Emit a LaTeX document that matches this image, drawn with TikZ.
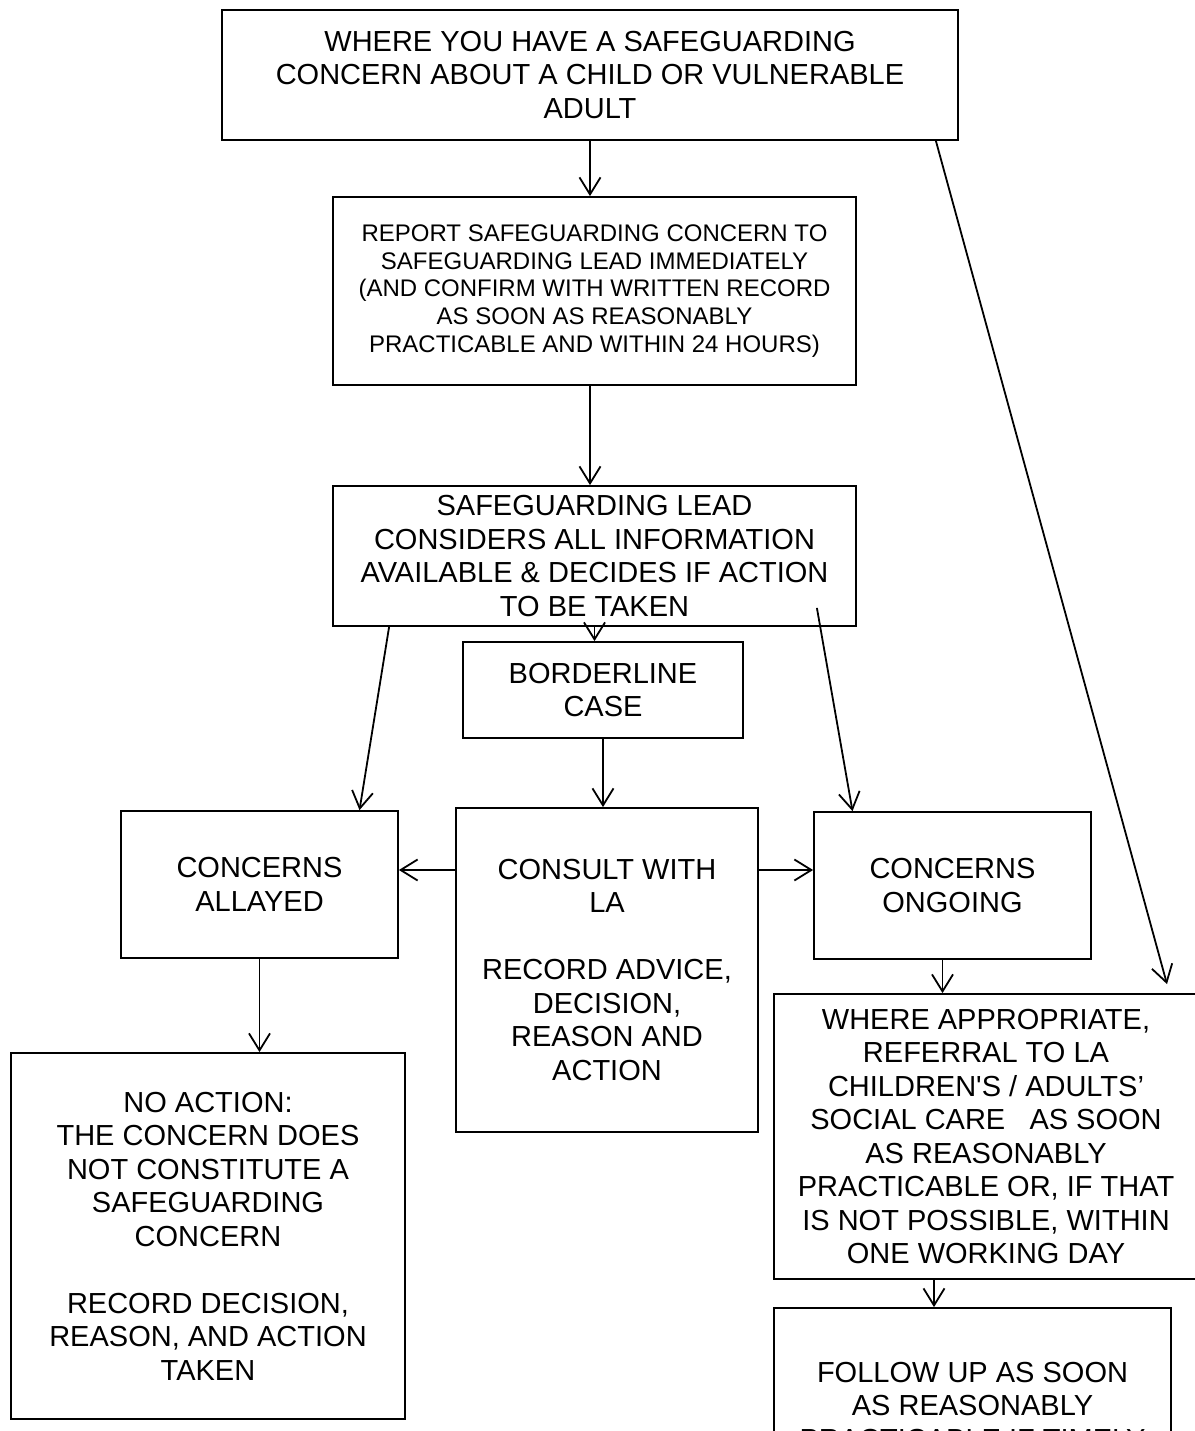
\documentclass[tikz,border=0pt]{standalone}
\usepackage{fontspec}
\setmainfont{Liberation Sans}
\usepackage{tikz}
\usetikzlibrary{arrows.meta}

\begin{document}
\begin{tikzpicture}[x=.5pt, y=-.5pt,
		box/.style={draw, line width=.9pt, rectangle, inner sep=0pt, align=center, font=\fontsize{14.5}{16.75}\selectfont},
		smallbox/.style={box, font=\fontsize{12}{13.9}\selectfont},
		arr/.style={-{Straight Barb[length=8.5pt, width=10.5pt]}, line width=.9pt}]
				\path[use as bounding box, clip] (0,0) rectangle (1195,1431);
				\node[box, minimum width=368pt, minimum height=65pt] (top) at (590,75) {WHERE YOU HAVE A SAFEGUARDING\\CONCERN ABOUT A CHILD OR VULNERABLE\\ADULT};
				\node[smallbox, minimum width=261.5pt, minimum height=94pt] (report) at (594.5,291) {REPORT SAFEGUARDING CONCERN TO\\SAFEGUARDING LEAD IMMEDIATELY\\(AND CONFIRM WITH WRITTEN RECORD\\AS SOON AS REASONABLY\\PRACTICABLE AND WITHIN 24 HOURS)};
				\node[box, minimum width=261.5pt, minimum height=70pt] (lead) at (594.5,556) {SAFEGUARDING LEAD\\CONSIDERS ALL INFORMATION\\AVAILABLE \& DECIDES IF ACTION\\TO BE TAKEN};
				\node[box, minimum width=140pt, minimum height=48pt] (border) at (603,690) {BORDERLINE\\CASE};
				\node[box, minimum width=151pt, minimum height=162pt] (consult) at (607,970) {CONSULT WITH\\LA\\[16.75pt]RECORD ADVICE,\\DECISION,\\REASON AND\\ACTION};
				\node[box, minimum width=138.5pt, minimum height=73.5pt] (allayed) at (259.5,884.5) {CONCERNS\\ALLAYED};
				\node[box, minimum width=138.5pt, minimum height=73.5pt] (ongoing) at (952.5,885.5) {CONCERNS\\ONGOING};
				\node[box, minimum width=212pt, minimum height=142.5pt] (referral) at (986,1136.5) {WHERE APPROPRIATE,\\REFERRAL TO LA\\CHILDREN\textquotesingle S / ADULTS’\\SOCIAL CARE\ \ \ AS SOON\\AS REASONABLY\\PRACTICABLE OR, IF THAT\\IS NOT POSSIBLE, WITHIN\\ONE WORKING DAY};
				\node[box, minimum width=197pt, minimum height=183pt] (noaction) at (208,1236) {NO ACTION:\\THE CONCERN DOES\\NOT CONSTITUTE A\\SAFEGUARDING\\CONCERN\\[16.75pt]RECORD DECISION,\\REASON, AND ACTION\\TAKEN};
				\node[box, minimum width=198.5pt, minimum height=97.5pt] (followup) at (972.5,1405.5) {FOLLOW UP AS SOON\\AS REASONABLY\\PRACTICABLE IF TIMELY};
				\draw[arr] (top.south) -- (top.south |- report.north);
				\draw[arr] (top.south |- report.south) -- (top.south |- lead.north);
				\draw[arr] (lead.south) -- (lead.south |- border.north);
				\draw[arr] (border.south) -- (border.south |- consult.north);
				\draw[arr] ([xshift=28.5pt]lead.south west) -- ([xshift=50pt]allayed.north);
				\draw[arr] ([xshift=-20pt, yshift=9.5pt]lead.south east) -- ([xshift=-50pt]ongoing.north);
				\draw[arr] ([xshift=-11.5pt]top.south east) -- ([xshift=90.5pt, yshift=4.5pt]referral.north);
				\draw[arr] ([yshift=50pt]consult.west) coordinate (c1) -- (c1 -| allayed.east);
				\draw[arr] ([yshift=50pt]consult.east) coordinate (c2) -- (c2 -| ongoing.west);
				\draw[arr] (allayed.south) -- (allayed.south |- noaction.north);
				\draw[arr] ([xshift=-5pt]ongoing.south) coordinate (o1) -- (o1 |- referral.north);
				\draw[arr] ([xshift=-26pt]referral.south) coordinate (r1) -- (r1 |- followup.north);
			\end{tikzpicture}
\end{document}
